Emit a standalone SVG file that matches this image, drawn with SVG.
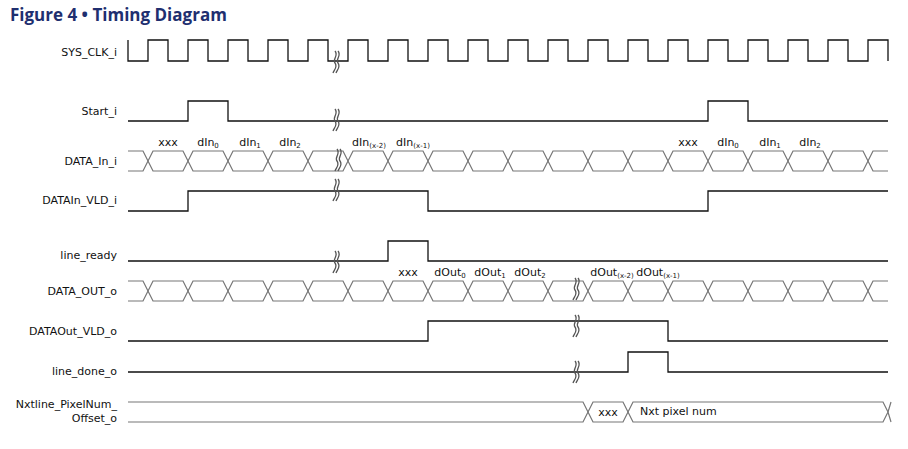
<svg xmlns="http://www.w3.org/2000/svg" xmlns:xlink="http://www.w3.org/1999/xlink" width="908" height="449" viewBox="0 0 908 449">
<style>
.t{font-family:"DejaVu Sans",sans-serif;font-size:11px;fill:#111}
.lbl{text-anchor:end}
.d{text-anchor:middle}
.w{fill:none;stroke:#111;stroke-width:1.3}
.b{fill:none;stroke:#777;stroke-width:1.2}
.br{fill:none;stroke:#555;stroke-width:1.3}
.s{font-size:7px}
</style>
<defs>
<path id="hx" class="b" d="M0,10 L5,0 L35,0 L40,10 L35,20 L5,20 Z"/>
<g id="brk"><path class="br" d="M-1,-11 C3,-6 -4,-3 -1,1 C2,5 -2,8 -3,11"/><path class="br" d="M2,-11 C6,-6 -1,-3 2,1 C5,5 1,8 0,11"/></g>
</defs>
<rect width="908" height="449" fill="#fff"/>
<text x="10" y="21" style="font-family:'Open Sans','DejaVu Sans',sans-serif;font-weight:bold;font-size:17px;fill:#1F2F6F">Figure 4 • Timing Diagram</text>
<g id="labels">
<text class="t lbl" x="117" y="56">SYS_CLK_i</text>
<text class="t lbl" x="117" y="115">Start_i</text>
<text class="t lbl" x="117" y="165">DATA_In_i</text>
<text class="t lbl" x="117" y="204">DATAIn_VLD_i</text>
<text class="t lbl" x="117" y="259">line_ready</text>
<text class="t lbl" x="117" y="295">DATA_OUT_o</text>
<text class="t lbl" x="117" y="335">DATAOut_VLD_o</text>
<text class="t lbl" x="117" y="375">line_done_o</text>
<text class="t lbl" x="117" y="408">Nxtline_PixelNum_</text>
<text class="t lbl" x="117" y="422">Offset_o</text>
</g>
<g id="SYS_CLK_i">
<path class="w" d="M128,40 L128,61 L148,61 L148,40 L168,40 L168,61 L188,61 L188,40 L208,40 L208,61 L228,61 L228,40 L248,40 L248,61 L268,61 L268,40 L288,40 L288,61 L308,61 L308,40 L328,40 L328,61 L348,61 L348,40 L368,40 L368,61 L388,61 L388,40 L408,40 L408,61 L428,61 L428,40 L448,40 L448,61 L468,61 L468,40 L488,40 L488,61 L508,61 L508,40 L528,40 L528,61 L548,61 L548,40 L568,40 L568,61 L588,61 L588,40 L608,40 L608,61 L628,61 L628,40 L648,40 L648,61 L668,61 L668,40 L688,40 L688,61 L708,61 L708,40 L728,40 L728,61 L748,61 L748,40 L768,40 L768,61 L788,61 L788,40 L808,40 L808,61 L828,61 L828,40 L848,40 L848,61 L868,61 L868,40 L888,40 L888,61"/>
<use xlink:href="#brk" x="336" y="62"/>
</g>
<g id="Start_i">
<path class="w" d="M128,121 L188,121 L188,101 L228,101 L228,121 L708,121 L708,101 L748,101 L748,121 L888,121"/>
<use xlink:href="#brk" x="336" y="120"/>
</g>
<g id="DATA_In_i">
<path class="b" d="M128,151 L143,151 L148,161 L143,171 L128,171"/>
<path class="b" d="M888,151 L873,151 L868,161 L873,171 L888,171"/>
<use xlink:href="#hx" x="148" y="151"/><use xlink:href="#hx" x="188" y="151"/><use xlink:href="#hx" x="228" y="151"/><use xlink:href="#hx" x="268" y="151"/><use xlink:href="#hx" x="308" y="151"/><use xlink:href="#hx" x="348" y="151"/><use xlink:href="#hx" x="388" y="151"/><use xlink:href="#hx" x="428" y="151"/><use xlink:href="#hx" x="468" y="151"/><use xlink:href="#hx" x="508" y="151"/><use xlink:href="#hx" x="548" y="151"/><use xlink:href="#hx" x="588" y="151"/><use xlink:href="#hx" x="628" y="151"/><use xlink:href="#hx" x="668" y="151"/><use xlink:href="#hx" x="708" y="151"/><use xlink:href="#hx" x="748" y="151"/><use xlink:href="#hx" x="788" y="151"/><use xlink:href="#hx" x="828" y="151"/>
<use xlink:href="#brk" x="338" y="160"/>
<text class="t d" x="168" y="146">xxx</text>
<text class="t d" x="208" y="146">dIn<tspan class="s" dy="2">0</tspan></text>
<text class="t d" x="250" y="146">dIn<tspan class="s" dy="2">1</tspan></text>
<text class="t d" x="290" y="146">dIn<tspan class="s" dy="2">2</tspan></text>
<text class="t d" x="369" y="146">dIn<tspan class="s" dy="2">(x-2)</tspan></text>
<text class="t d" x="413" y="146">dIn<tspan class="s" dy="2">(x-1)</tspan></text>
<text class="t d" x="688" y="146">xxx</text>
<text class="t d" x="728" y="146">dIn<tspan class="s" dy="2">0</tspan></text>
<text class="t d" x="770" y="146">dIn<tspan class="s" dy="2">1</tspan></text>
<text class="t d" x="810" y="146">dIn<tspan class="s" dy="2">2</tspan></text>
</g>
<g id="DATAIn_VLD_i">
<path class="w" d="M128,211 L188,211 L188,191 L428,191 L428,211 L708,211 L708,191 L888,191"/>
<use xlink:href="#brk" x="336" y="190"/>
</g>
<g id="line_ready">
<path class="w" d="M128,261 L388,261 L388,241 L428,241 L428,261 L888,261"/>
<use xlink:href="#brk" x="336" y="262"/>
</g>
<g id="DATA_OUT_o">
<path class="b" d="M128,281 L143,281 L148,291 L143,301 L128,301"/>
<path class="b" d="M888,281 L873,281 L868,291 L873,301 L888,301"/>
<use xlink:href="#hx" x="148" y="281"/><use xlink:href="#hx" x="188" y="281"/><use xlink:href="#hx" x="228" y="281"/><use xlink:href="#hx" x="268" y="281"/><use xlink:href="#hx" x="308" y="281"/><use xlink:href="#hx" x="348" y="281"/><use xlink:href="#hx" x="388" y="281"/><use xlink:href="#hx" x="428" y="281"/><use xlink:href="#hx" x="468" y="281"/><use xlink:href="#hx" x="508" y="281"/><use xlink:href="#hx" x="548" y="281"/><use xlink:href="#hx" x="588" y="281"/><use xlink:href="#hx" x="628" y="281"/><use xlink:href="#hx" x="668" y="281"/><use xlink:href="#hx" x="708" y="281"/><use xlink:href="#hx" x="748" y="281"/><use xlink:href="#hx" x="788" y="281"/><use xlink:href="#hx" x="828" y="281"/>
<use xlink:href="#brk" x="576" y="289"/>
<text class="t d" x="408" y="276">xxx</text>
<text class="t d" x="450" y="276">dOut<tspan class="s" dy="2">0</tspan></text>
<text class="t d" x="490" y="276">dOut<tspan class="s" dy="2">1</tspan></text>
<text class="t d" x="530" y="276">dOut<tspan class="s" dy="2">2</tspan></text>
<text class="t d" x="612" y="276">dOut<tspan class="s" dy="2">(x-2)</tspan></text>
<text class="t d" x="658" y="276">dOut<tspan class="s" dy="2">(x-1)</tspan></text>
</g>
<g id="DATAOut_VLD_o">
<path class="w" d="M128,341 L428,341 L428,321 L668,321 L668,341 L888,341"/>
<use xlink:href="#brk" x="576" y="326"/>
</g>
<g id="line_done_o">
<path class="w" d="M128,372 L628,372 L628,352 L668,352 L668,372 L888,372"/>
<use xlink:href="#brk" x="576" y="372"/>
</g>
<g id="Nxtline_PixelNum_Offset_o">
<path class="b" d="M128,402 L583,402 L588,412 L583,422 L128,422"/>
<path class="b" d="M588,412 L593,402 L623,402 L628,412 L623,422 L593,422 Z"/>
<path class="b" d="M628,412 L633,402 L883,402 L888,412 L883,422 L633,422 Z"/>
<path class="b" d="M888,412 L891,402 M888,412 L891,422"/>
<text class="t d" x="608" y="416">xxx</text>
<text class="t" x="640" y="415">Nxt pixel num</text>
</g>
</svg>
